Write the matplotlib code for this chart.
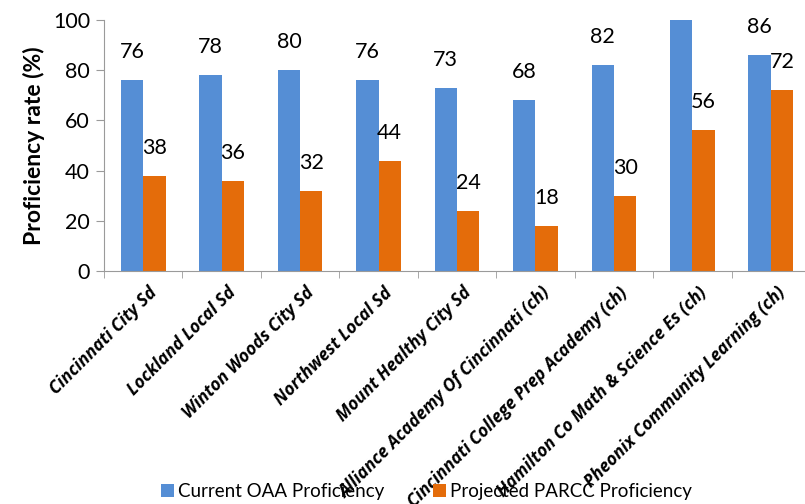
import numpy as np
import matplotlib
matplotlib.use("Agg")
from matplotlib import pyplot as plt
from matplotlib import transforms

plt.rcParams['font.family'] = ['Lato', 'DejaVu Sans']

schools = ["Cincinnati City Sd", "Lockland Local Sd", "Winton Woods City Sd",
           "Northwest Local Sd", "Mount Healthy City Sd",
           "Alliance Academy Of Cincinnati (ch)",
           "Cincinnati College Prep Academy (ch)",
           "Hamilton Co Math & Science Es (ch)",
           "Pheonix Community Learning (ch)"]
current_oaa = [76, 78, 80, 76, 73, 68, 82, 100, 86]
projected_parcc = [38, 36, 32, 44, 24, 18, 30, 56, 72]

blue = "#558ED5"
orange = "#E46C0A"
axis_gray = "#9A9A9A"

fig = plt.figure(figsize=(8.05, 5.04), dpi=100)
ax = fig.add_axes([104 / 805, 233 / 504, 706 / 805, 251 / 504])

x = np.arange(len(schools))
w = 0.285
b1 = ax.bar(x - w / 2, current_oaa, w, color=blue, label="Current OAA Proficiency")
b2 = ax.bar(x + w / 2, projected_parcc, w, color=orange, label="Projected PARCC Proficiency")

for bars, vals in [(b1, current_oaa), (b2, projected_parcc)]:
    for r, v in zip(bars, vals):
        ax.annotate(str(v), (r.get_x() + r.get_width() / 2, v), xytext=(0, 28),
                    textcoords="offset pixels", ha="center", va="center",
                    fontsize=15.5, annotation_clip=False)

ax.set_xlim(-0.5, len(schools) - 0.5)
ax.set_ylim(0, 100)
ax.set_yticks([0, 20, 40, 60, 80, 100])
ax.tick_params(axis="y", labelsize=15.5, length=6, color=axis_gray, pad=4)
ax.set_ylabel("Proficiency rate (%)", fontsize=16.5, fontweight="bold", labelpad=6)

ax.set_xticks(x)
ax.set_xticklabels(schools, rotation=45, ha="right", rotation_mode="anchor",
                   fontsize=12.5, fontweight="bold", fontstyle="italic",
                   family=["Open Sans", "DejaVu Sans"])
ax.tick_params(axis="x", which="major", length=0, pad=9)
shift = transforms.ScaledTranslation(5 / 100, 0, fig.dpi_scale_trans)
for lbl in ax.get_xticklabels():
    lbl.set_transform(lbl.get_transform() + shift)
ax.set_xticks(np.arange(len(schools) + 1) - 0.5, minor=True)
ax.tick_params(axis="x", which="minor", length=5, color=axis_gray)

for s in ["top", "right"]:
    ax.spines[s].set_visible(False)
for s in ["left", "bottom"]:
    ax.spines[s].set_color(axis_gray)

fig.legend(handles=[b1, b2], loc="lower center", bbox_to_anchor=(0.53, -0.025),
           ncol=2, frameon=False, fontsize=13.5, handlelength=0.7, handleheight=0.7,
           handletextpad=0.2, columnspacing=2.6)

fig.savefig("out.png", dpi=100)
